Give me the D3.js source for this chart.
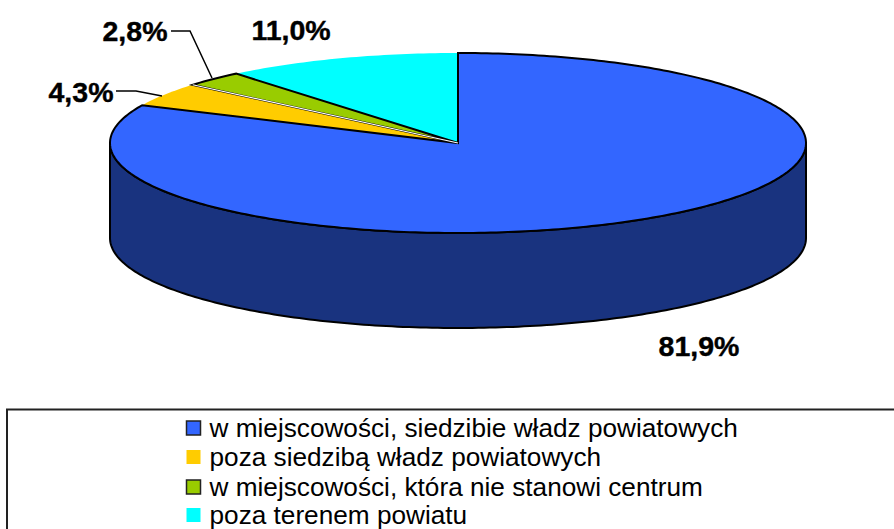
<!DOCTYPE html>
<html><head><meta charset="utf-8">
<script src="https://cdn.jsdelivr.net/npm/d3@7/dist/d3.min.js"></script>
<style>html,body{margin:0;padding:0;background:#fff;overflow:hidden}svg{display:block}</style>
</head><body><svg id="c" width="894" height="529"></svg>
<script>
const categories = ["w miejscowości, siedzibie władz powiatowych","poza siedzibą władz powiatowych","w miejscowości, która nie stanowi centrum","poza terenem powiatu"];
const values = [81.9,4.3,2.8,11.0];
const valueLabels = ["81,9%","4,3%","2,8%","11,0%"];
const colors = ["#3366ff","#ffcc00","#99cc00","#00ffff"];
const sliceStrokes = ["#000","none","#000","none"];
const sideColor = "#19337f";

const W=894,H=529,cx=458,cy=143,rx=348,ry=90,depth=95;
const svg=d3.select("#c");
const font="'Liberation Sans',Arial,sans-serif";
const pie=d3.pie().sort(null).value(d=>d)(values);
const X=d3.scaleLinear().domain([-1,1]).range([cx-rx,cx+rx]);
const Y=d3.scaleLinear().domain([-1,1]).range([cy-ry,cy+ry]);
const pt=(a,dy=0)=>[X(Math.sin(a)),Y(-Math.cos(a))+dy];
const line=d3.line();
const arcPts=(a0,a1,dy=0)=>{const n=Math.max(2,Math.ceil(Math.abs(a1-a0)*60));
  return d3.range(n+1).map(i=>pt(a0+(a1-a0)*i/n,dy));};

// extruded side (visible front half)
const sidePts=[...arcPts(Math.PI/2,3*Math.PI/2),...arcPts(3*Math.PI/2,Math.PI/2,depth)];
svg.append("path").attr("d",line(sidePts)+"Z").attr("fill",sideColor).attr("stroke","#000").attr("stroke-width",2).attr("stroke-linejoin","round");

// top slices
const draw=[1,3,2,0];
draw.forEach(i=>{const s=pie[i];
  const pts=[[cx,cy],...arcPts(s.startAngle,s.endAngle)];
  svg.append("path").attr("d",line(pts)+"Z").attr("fill",colors[i])
    .attr("stroke",sliceStrokes[i]).attr("stroke-width",2).attr("stroke-linejoin","miter");
});
// white hairline between orange and green
const e=pie[1].endAngle;
svg.append("path").attr("d",line([[cx,cy],pt(e)])).attr("stroke","#fff").attr("stroke-width",1.2).attr("fill","none");

// leader lines
const leaders=[[[171,31],[190,31],[212,78]],[[116,91],[136,91],[162,96]]];
leaders.forEach(l=>svg.append("path").attr("d",line(l)).attr("fill","none").attr("stroke","#000").attr("stroke-width",1.5));

// value labels
const labelPos=[[699,346],[81,92],[135,31],[291,30]];
valueLabels.forEach((t,i)=>svg.append("text").text(t).attr("x",labelPos[i][0]).attr("y",labelPos[i][1])
  .attr("text-anchor","middle").attr("dominant-baseline","central")
  .attr("font-family",font).attr("font-weight","bold").attr("font-size",28.5).attr("fill","#000")
  .attr("stroke","#000").attr("stroke-width",0.4));

// legend
svg.append("path").attr("d","M7,529V409.5H894").attr("fill","none").attr("stroke","#222").attr("stroke-width",2);
const rowY=[428,457,487,515];
categories.forEach((c,i)=>{
  svg.append("rect").attr("x",186.5).attr("y",rowY[i]-7).attr("width",14).attr("height",14).attr("fill",colors[i])
    .attr("stroke",sliceStrokes[i]==="none"?"none":"#222").attr("stroke-width",1.5);
  svg.append("text").text(c).attr("x",209.5).attr("y",rowY[i]).attr("dominant-baseline","central")
    .attr("font-family",font).attr("font-size",26.2).attr("fill","#000");
});
</script></body></html>
